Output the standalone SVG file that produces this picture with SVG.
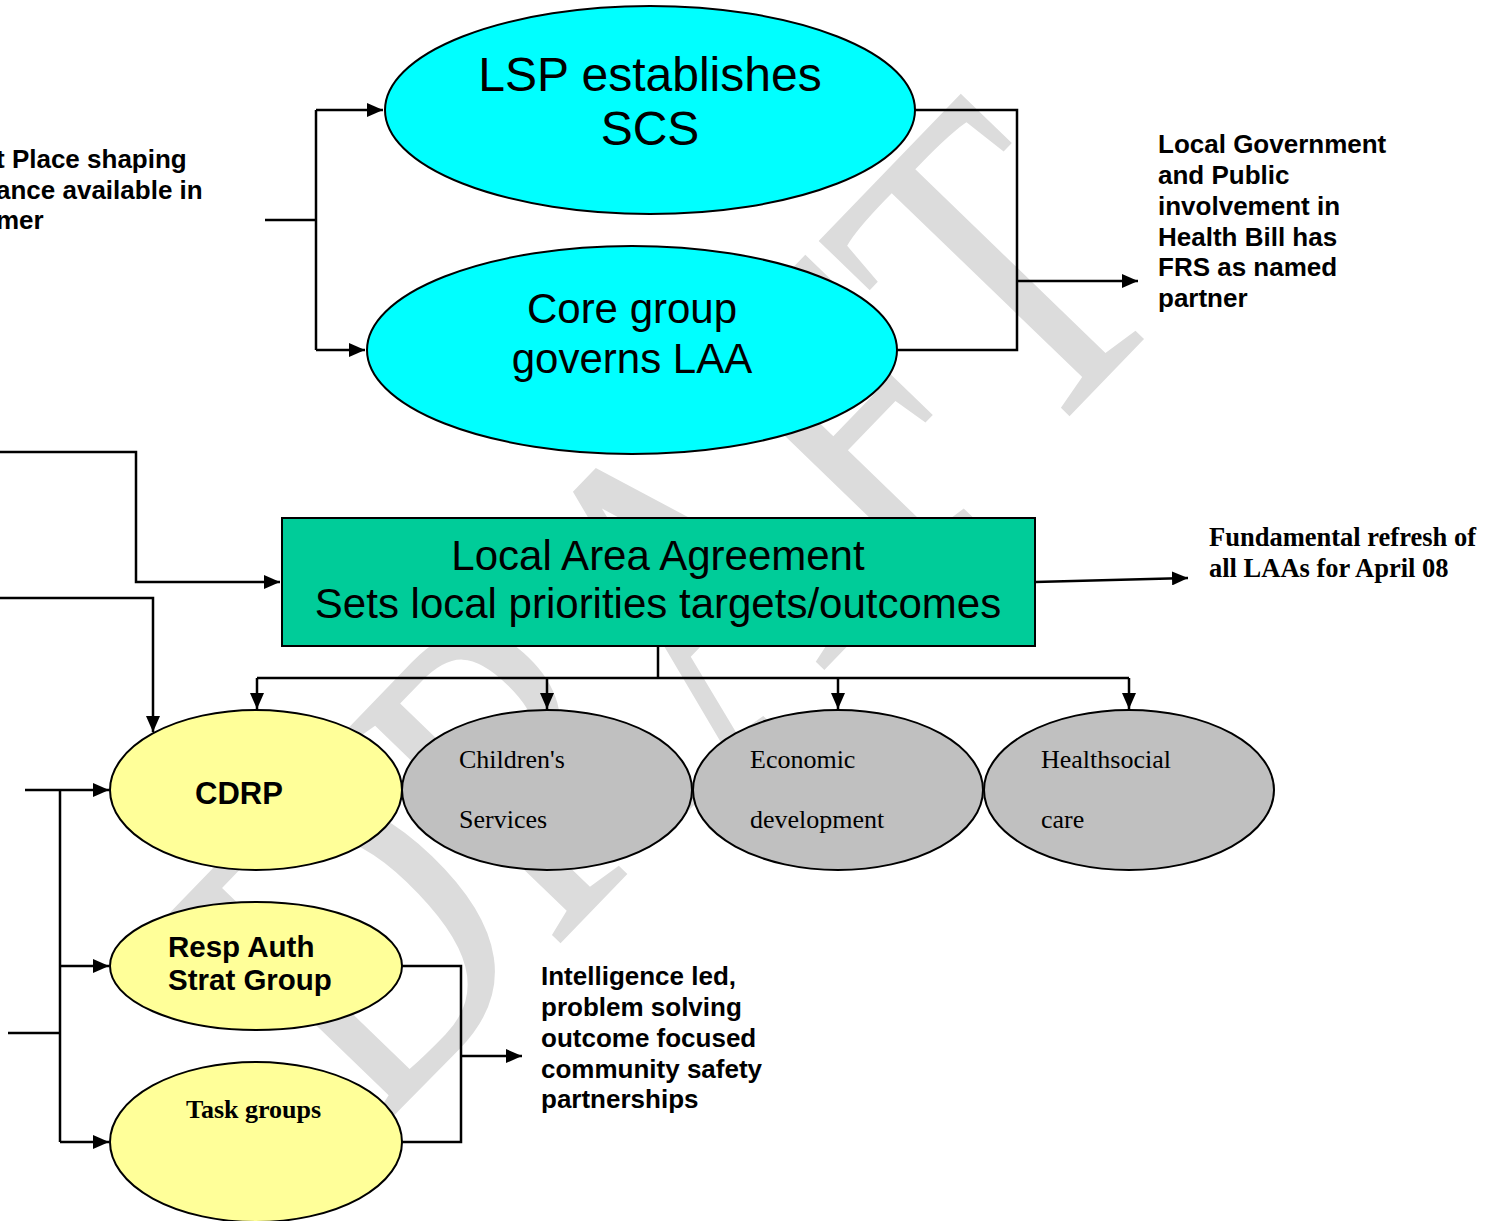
<svg xmlns="http://www.w3.org/2000/svg" width="1488" height="1221" viewBox="0 0 1488 1221">
<style>
.ln{fill:none;stroke:#000;stroke-width:2.5}
.sh{stroke:#000;stroke-width:2}
.sans{font-family:"Liberation Sans",Arial,sans-serif}
.serif{font-family:"Liberation Serif","Times New Roman",serif}
.b{font-weight:bold}
.lbl{font-family:"Liberation Sans",Arial,sans-serif;font-weight:bold;font-size:26px}
</style>
<defs>
<marker id="ah" markerUnits="userSpaceOnUse" markerWidth="18" markerHeight="14" refX="16" refY="7" orient="auto">
<path d="M0,0 L16,7 L0,14 Z" fill="#000"/>
</marker>
</defs>
<rect width="1488" height="1221" fill="#fff"/>
<g id="watermark">
<text transform="translate(778,718) rotate(-46) scale(1,1.3)" text-anchor="middle" class="serif" font-size="355" fill="#dcdcdc">DRAFT</text>
</g>
<g id="connectors">
<polyline class="ln" points="265,220 316,220"/>
<polyline class="ln" points="316,110 316,350"/>
<polyline class="ln" points="316,110 383,110" marker-end="url(#ah)"/>
<polyline class="ln" points="316,350 365,350" marker-end="url(#ah)"/>
<polyline class="ln" points="915,110 1017,110 1017,350 897,350"/>
<polyline class="ln" points="1017,281 1138,281" marker-end="url(#ah)"/>
<polyline class="ln" points="0,452 136,452 136,582 280,582" marker-end="url(#ah)"/>
<polyline class="ln" points="0,598 153,598 153,732" marker-end="url(#ah)"/>
<polyline class="ln" points="1035,582 1188,578" marker-end="url(#ah)"/>
<polyline class="ln" points="658,646 658,678"/>
<polyline class="ln" points="257,678 1129,678"/>
<polyline class="ln" points="257,678 257,709" marker-end="url(#ah)"/>
<polyline class="ln" points="547,678 547,709" marker-end="url(#ah)"/>
<polyline class="ln" points="838,678 838,709" marker-end="url(#ah)"/>
<polyline class="ln" points="1129,678 1129,709" marker-end="url(#ah)"/>
<polyline class="ln" points="25,790 109,790" marker-end="url(#ah)"/>
<polyline class="ln" points="60,790 60,1142"/>
<polyline class="ln" points="60,966 109,966" marker-end="url(#ah)"/>
<polyline class="ln" points="60,1142 109,1142" marker-end="url(#ah)"/>
<polyline class="ln" points="8,1033 60,1033"/>
<polyline class="ln" points="402,966 461,966 461,1142 402,1142"/>
<polyline class="ln" points="461,1056 522,1056" marker-end="url(#ah)"/>
</g>
<g id="note-place-shaping" class="lbl">
<text x="-4" y="168">t Place shaping</text>
<text x="-4" y="199">ance available in</text>
<text x="-4" y="229">mer</text>
</g>
<g id="lsp">
<ellipse cx="650" cy="110" rx="265" ry="104" fill="#00ffff" class="sh"/>
<text x="650" y="91" text-anchor="middle" class="sans" font-size="48">LSP establishes</text>
<text x="650" y="145" text-anchor="middle" class="sans" font-size="48">SCS</text>
</g>
<g id="core">
<ellipse cx="632" cy="350" rx="265" ry="104" fill="#00ffff" class="sh"/>
<text x="632" y="323" text-anchor="middle" class="sans" font-size="42">Core group</text>
<text x="632" y="373" text-anchor="middle" class="sans" font-size="42">governs LAA</text>
</g>
<g id="note-health-bill" class="lbl">
<text x="1158" y="153">Local Government</text>
<text x="1158" y="184">and Public</text>
<text x="1158" y="215">involvement in</text>
<text x="1158" y="246">Health Bill has</text>
<text x="1158" y="276">FRS as named</text>
<text x="1158" y="307">partner</text>
</g>
<g id="laa">
<rect x="282" y="518" width="753" height="128" fill="#00cc99" class="sh"/>
<text x="658" y="570" text-anchor="middle" class="sans" font-size="42">Local Area Agreement</text>
<text x="658" y="618" text-anchor="middle" class="sans" font-size="42">Sets local priorities targets/outcomes</text>
</g>
<g id="note-refresh" class="serif b" font-size="26.5">
<text x="1209" y="546">Fundamental refresh of</text>
<text x="1209" y="577">all LAAs for April 08</text>
</g>
<g id="cdrp">
<ellipse cx="256" cy="790" rx="146" ry="80" fill="#ffff99" class="sh"/>
<text x="195" y="804" class="sans b" font-size="31">CDRP</text>
</g>
<g id="childrens">
<ellipse cx="547" cy="790" rx="145" ry="80" fill="#c0c0c0" class="sh"/>
<text x="459" y="768" class="serif" font-size="26">Children's</text>
<text x="459" y="828" class="serif" font-size="26">Services</text>
</g>
<g id="economic">
<ellipse cx="838" cy="790" rx="145" ry="80" fill="#c0c0c0" class="sh"/>
<text x="750" y="768" class="serif" font-size="26">Economic</text>
<text x="750" y="828" class="serif" font-size="26">development</text>
</g>
<g id="health">
<ellipse cx="1129" cy="790" rx="145" ry="80" fill="#c0c0c0" class="sh"/>
<text x="1041" y="768" class="serif" font-size="26">Healthsocial</text>
<text x="1041" y="828" class="serif" font-size="26">care</text>
</g>
<g id="resp-auth">
<ellipse cx="256" cy="966" rx="146" ry="64" fill="#ffff99" class="sh"/>
<text x="168" y="957" class="sans b" font-size="29.5">Resp Auth</text>
<text x="168" y="990" class="sans b" font-size="29.5">Strat Group</text>
</g>
<g id="task-groups">
<ellipse cx="256" cy="1142" rx="146" ry="80" fill="#ffff99" class="sh"/>
<text x="186" y="1118" class="serif b" font-size="26">Task groups</text>
</g>
<g id="note-intelligence" class="lbl">
<text x="541" y="985">Intelligence led,</text>
<text x="541" y="1016">problem solving</text>
<text x="541" y="1047">outcome focused</text>
<text x="541" y="1078">community safety</text>
<text x="541" y="1108">partnerships</text>
</g>
</svg>
